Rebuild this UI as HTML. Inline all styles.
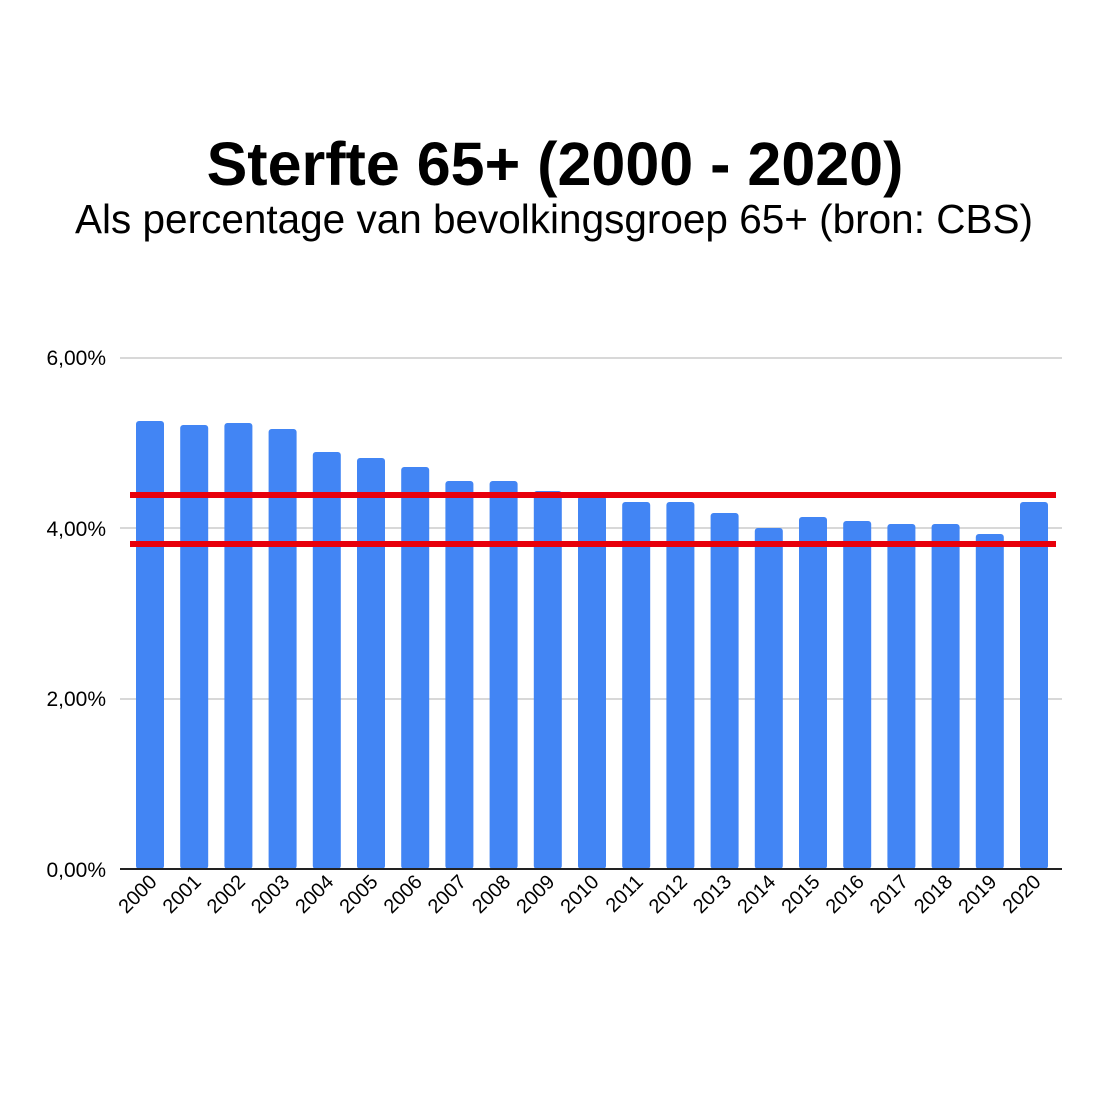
<!DOCTYPE html>
<html><head><style>body{margin:0;background:#fff}</style></head><body>
<svg width="1107" height="1107" xmlns="http://www.w3.org/2000/svg" font-family="Liberation Sans, Arial, sans-serif">
<rect width="1107" height="1107" fill="#fff"/>
<text x="555" y="185" text-anchor="middle" font-size="61" font-weight="bold">Sterfte 65+ (2000 - 2020)</text>
<text x="554" y="233" text-anchor="middle" font-size="40.5">Als percentage van bevolkingsgroep 65+ (bron: CBS)</text>
<g stroke="#ccc" stroke-width="1.5">
<line x1="120" y1="358" x2="1062" y2="358"/>
<line x1="120" y1="528" x2="1062" y2="528"/>
<line x1="120" y1="699" x2="1062" y2="699"/>
</g>
<g font-size="21" text-anchor="end">
<text x="106" y="365">6,00%</text>
<text x="106" y="536">4,00%</text>
<text x="106" y="706">2,00%</text>
<text x="106" y="877">0,00%</text>
</g>
<g fill="#4285f4" id="bars"></g>
<line x1="120" y1="869" x2="1062" y2="869" stroke="#222" stroke-width="2"/>
<g stroke="#e8000b" stroke-width="6">
<line x1="130" y1="495" x2="1056" y2="495"/>
<line x1="130" y1="544" x2="1056" y2="544"/>
</g>
<g id="labels" font-size="20" text-anchor="end"></g>
<script>
var tops=[421,425,423,429,452,458,467,481,481,491,496,502,502,513,528,517,521,524,524,534,502];
var b=document.getElementById('bars'),l=document.getElementById('labels'),ns='http://www.w3.org/2000/svg';
for(var i=0;i<21;i++){var x=136+i*44.2;var r=document.createElementNS(ns,'rect');
r.setAttribute('x',x);r.setAttribute('y',tops[i]);r.setAttribute('width',28);r.setAttribute('height',869-tops[i]);r.setAttribute('rx',3);b.appendChild(r);
var t=document.createElementNS(ns,'text');var cx=x+22,cy=883;t.setAttribute('x',cx);t.setAttribute('y',cy);
t.setAttribute('transform','rotate(-45 '+cx+' '+cy+')');t.textContent=2000+i;l.appendChild(t);}
</script>
</svg>
</body></html>
